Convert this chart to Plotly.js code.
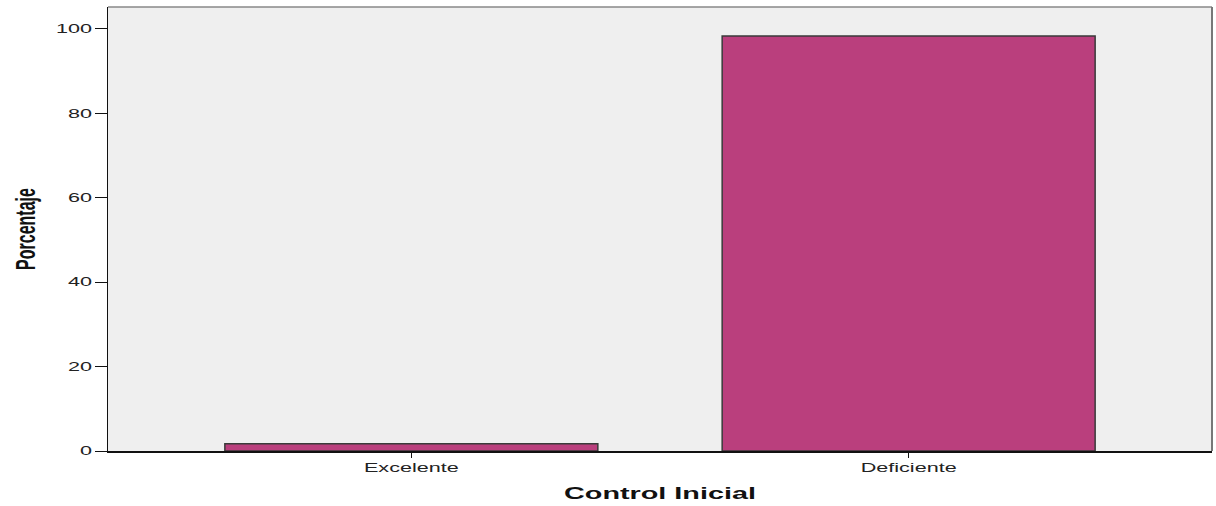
<!DOCTYPE html>
<html>
<head>
<meta charset="utf-8">
<script src="https://cdn.plot.ly/plotly-3.0.1.min.js"></script>
<style>html,body{margin:0;padding:0;background:#fff;}#chart{width:1216px;height:506px;}</style>
</head>
<body>
<div id="chart"></div>
<script>
const categories = ["Excelente", "Deficiente"];
const percentages = [1.7, 98.3];
const yTicks = [0, 20, 40, 60, 80, 100];

const trace = {
  type: "bar",
  x: categories,
  y: percentages,
  width: 0.75,
  marker: {color: "#BA3F7D", line: {color: "#3a3a3a", width: 1.5}},
  hoverinfo: "x+y"
};

const layout = {
  width: 1216, height: 506,
  margin: {l: 108, r: 4, t: 7, b: 55},
  paper_bgcolor: "#ffffff",
  plot_bgcolor: "#EFEFEF",
  showlegend: false,
  font: {family: "Liberation Sans, Arial, sans-serif", color: "#222"},
  xaxis: {
    type: "category",
    range: [-0.61, 1.61],
    showgrid: false, zeroline: false,
    showline: true, linecolor: "#111", linewidth: 1.5,
    ticks: "outside", ticklen: 5, tickcolor: "#111", tickwidth: 1.5,
    tickfont: {size: 12, color: "#222"},
    title: {text: "<b>Control Inicial</b>", font: {size: 16, color: "#111"}, standoff: 14}
  },
  yaxis: {
    range: [0, 105.2],
    tickvals: yTicks,
    showgrid: false, zeroline: false,
    showline: true, linecolor: "#111", linewidth: 1.5,
    ticks: "outside", ticklen: 12, tickcolor: "#111", tickwidth: 1,
    tickfont: {size: 12, color: "#222"},
    title: {text: "<b>Porcentaje</b>", font: {size: 16, color: "#111"}, standoff: 32}
  },
  shapes: [
    {type: "line", xref: "paper", yref: "paper", x0: 0, x1: 1, y0: 1, y1: 1, line: {color: "#888", width: 1.5}},
    {type: "line", xref: "paper", yref: "paper", x0: 1, x1: 1, y0: 0, y1: 1, line: {color: "#777", width: 2}}
  ]
};

function stretch(el, sx, sy) {
  const ax = parseFloat(el.getAttribute("x") || 0);
  const ay = parseFloat(el.getAttribute("y") || 0);
  const t = el.getAttribute("transform") || "";
  el.setAttribute("transform", t + " translate(" + ax + "," + ay + ") scale(" + sx + "," + sy + ") translate(" + (-ax) + "," + (-ay) + ")");
}

Plotly.newPlot("chart", [trace], layout, {displayModeBar: false, staticPlot: true}).then(function (gd) {
  gd.querySelectorAll(".xtick text, .ytick text").forEach(function (el) { stretch(el, 1.8, 1); });
  gd.querySelectorAll(".g-xtitle text").forEach(function (el) { stretch(el, 1.8, 1); });
  gd.querySelectorAll(".g-ytitle text").forEach(function (el) { stretch(el, 1, 1.7); });
});
</script>
</body>
</html>
